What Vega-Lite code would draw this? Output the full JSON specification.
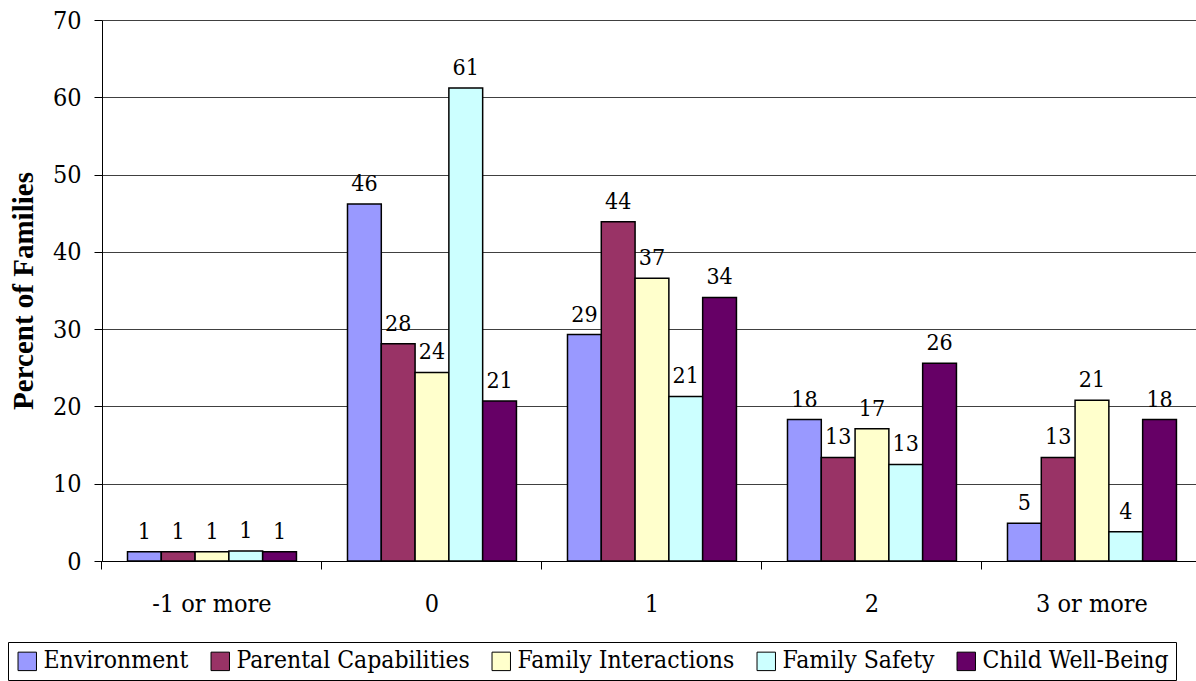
{
  "$schema": "https://vega.github.io/schema/vega-lite/v6.json",
  "autosize": {"type": "none"},
  "padding": {"left": 102, "top": 20, "right": 0, "bottom": 120},
  "width": 1094,
  "height": 541,
  "background": "white",
  "config": {
    "view": {"stroke": null},
    "font": "DejaVu Serif Condensed, DejaVu Serif",
    "axis": {"labelFont": "DejaVu Serif Condensed, DejaVu Serif"},
    "legend": {"labelFont": "DejaVu Serif Condensed, DejaVu Serif"},
    "text": {"font": "DejaVu Serif Condensed, DejaVu Serif"}
  },
  "data": {
    "values": [
      {"cat": "-1 or more", "series": "Environment", "value": 1.2},
      {"cat": "-1 or more", "series": "Parental Capabilities", "value": 1.2},
      {"cat": "-1 or more", "series": "Family Interactions", "value": 1.2},
      {"cat": "-1 or more", "series": "Family Safety", "value": 1.3},
      {"cat": "-1 or more", "series": "Child Well-Being", "value": 1.2},
      {"cat": "0", "series": "Environment", "value": 46.2},
      {"cat": "0", "series": "Parental Capabilities", "value": 28.1},
      {"cat": "0", "series": "Family Interactions", "value": 24.4},
      {"cat": "0", "series": "Family Safety", "value": 61.2},
      {"cat": "0", "series": "Child Well-Being", "value": 20.7},
      {"cat": "1", "series": "Environment", "value": 29.3},
      {"cat": "1", "series": "Parental Capabilities", "value": 43.9},
      {"cat": "1", "series": "Family Interactions", "value": 36.6},
      {"cat": "1", "series": "Family Safety", "value": 21.3},
      {"cat": "1", "series": "Child Well-Being", "value": 34.1},
      {"cat": "2", "series": "Environment", "value": 18.3},
      {"cat": "2", "series": "Parental Capabilities", "value": 13.4},
      {"cat": "2", "series": "Family Interactions", "value": 17.1},
      {"cat": "2", "series": "Family Safety", "value": 12.5},
      {"cat": "2", "series": "Child Well-Being", "value": 25.6},
      {"cat": "3 or more", "series": "Environment", "value": 4.9},
      {"cat": "3 or more", "series": "Parental Capabilities", "value": 13.4},
      {"cat": "3 or more", "series": "Family Interactions", "value": 20.8},
      {"cat": "3 or more", "series": "Family Safety", "value": 3.8},
      {"cat": "3 or more", "series": "Child Well-Being", "value": 18.3}
    ]
  },
  "encoding": {
    "x": {
      "field": "cat", "type": "nominal",
      "sort": ["-1 or more", "0", "1", "2", "3 or more"],
      "scale": {"paddingInner": 0.232, "paddingOuter": 0.1024, "align": 0.566},
      "axis": {
        "title": null, "labelAngle": 0, "labelFontSize": 25,
        "labelColor": "black", "labelPadding": 22, "bandPosition": -0.151,
        "tickColor": "black", "tickSize": 8, "domainColor": "black", "grid": false
      }
    },
    "xOffset": {
      "field": "series", "type": "nominal",
      "sort": ["Environment", "Parental Capabilities", "Family Interactions", "Family Safety", "Child Well-Being"]
    },
    "y": {
      "field": "value", "type": "quantitative",
      "scale": {"domain": [0, 70], "nice": false},
      "axis": {
        "title": "Percent of Families", "titleFontSize": 29, "titleFont": "Liberation Serif",
        "titleFontWeight": "bold", "titleColor": "black", "titlePadding": 14,
        "values": [0, 10, 20, 30, 40, 50, 60, 70],
        "labelFontSize": 25, "labelColor": "black", "labelPadding": 13,
        "tickColor": "black", "tickSize": 8, "domainColor": "black",
        "grid": true, "gridColor": "#404040", "gridWidth": 1
      }
    }
  },
  "layer": [
    {
      "mark": {"type": "bar", "stroke": "black", "strokeWidth": 1.5},
      "encoding": {
        "color": {
          "field": "series", "type": "nominal",
          "sort": ["Environment", "Parental Capabilities", "Family Interactions", "Family Safety", "Child Well-Being"],
          "scale": {
            "domain": ["Environment", "Parental Capabilities", "Family Interactions", "Family Safety", "Child Well-Being"],
            "range": ["#9999FF", "#993366", "#FFFFCC", "#CCFFFF", "#660066"]
          },
          "legend": {
            "title": null, "orient": "none", "direction": "horizontal",
            "legendX": -94, "legendY": 622,
            "labelFontSize": 24.5, "labelColor": "black", "labelLimit": 0,
            "symbolType": "square", "symbolSize": 340, "symbolStrokeColor": "black", "symbolStrokeWidth": 1,
            "symbolOpacity": 1, "columnPadding": 19, "labelOffset": 4,
            "strokeColor": "black", "padding": 7, "fillColor": "white"
          }
        }
      }
    },
    {
      "mark": {"type": "text", "baseline": "bottom", "dy": -8, "fontSize": 23, "color": "black"},
      "encoding": {
        "text": {"field": "value", "type": "quantitative", "format": ".0f"}
      }
    }
  ]
}
